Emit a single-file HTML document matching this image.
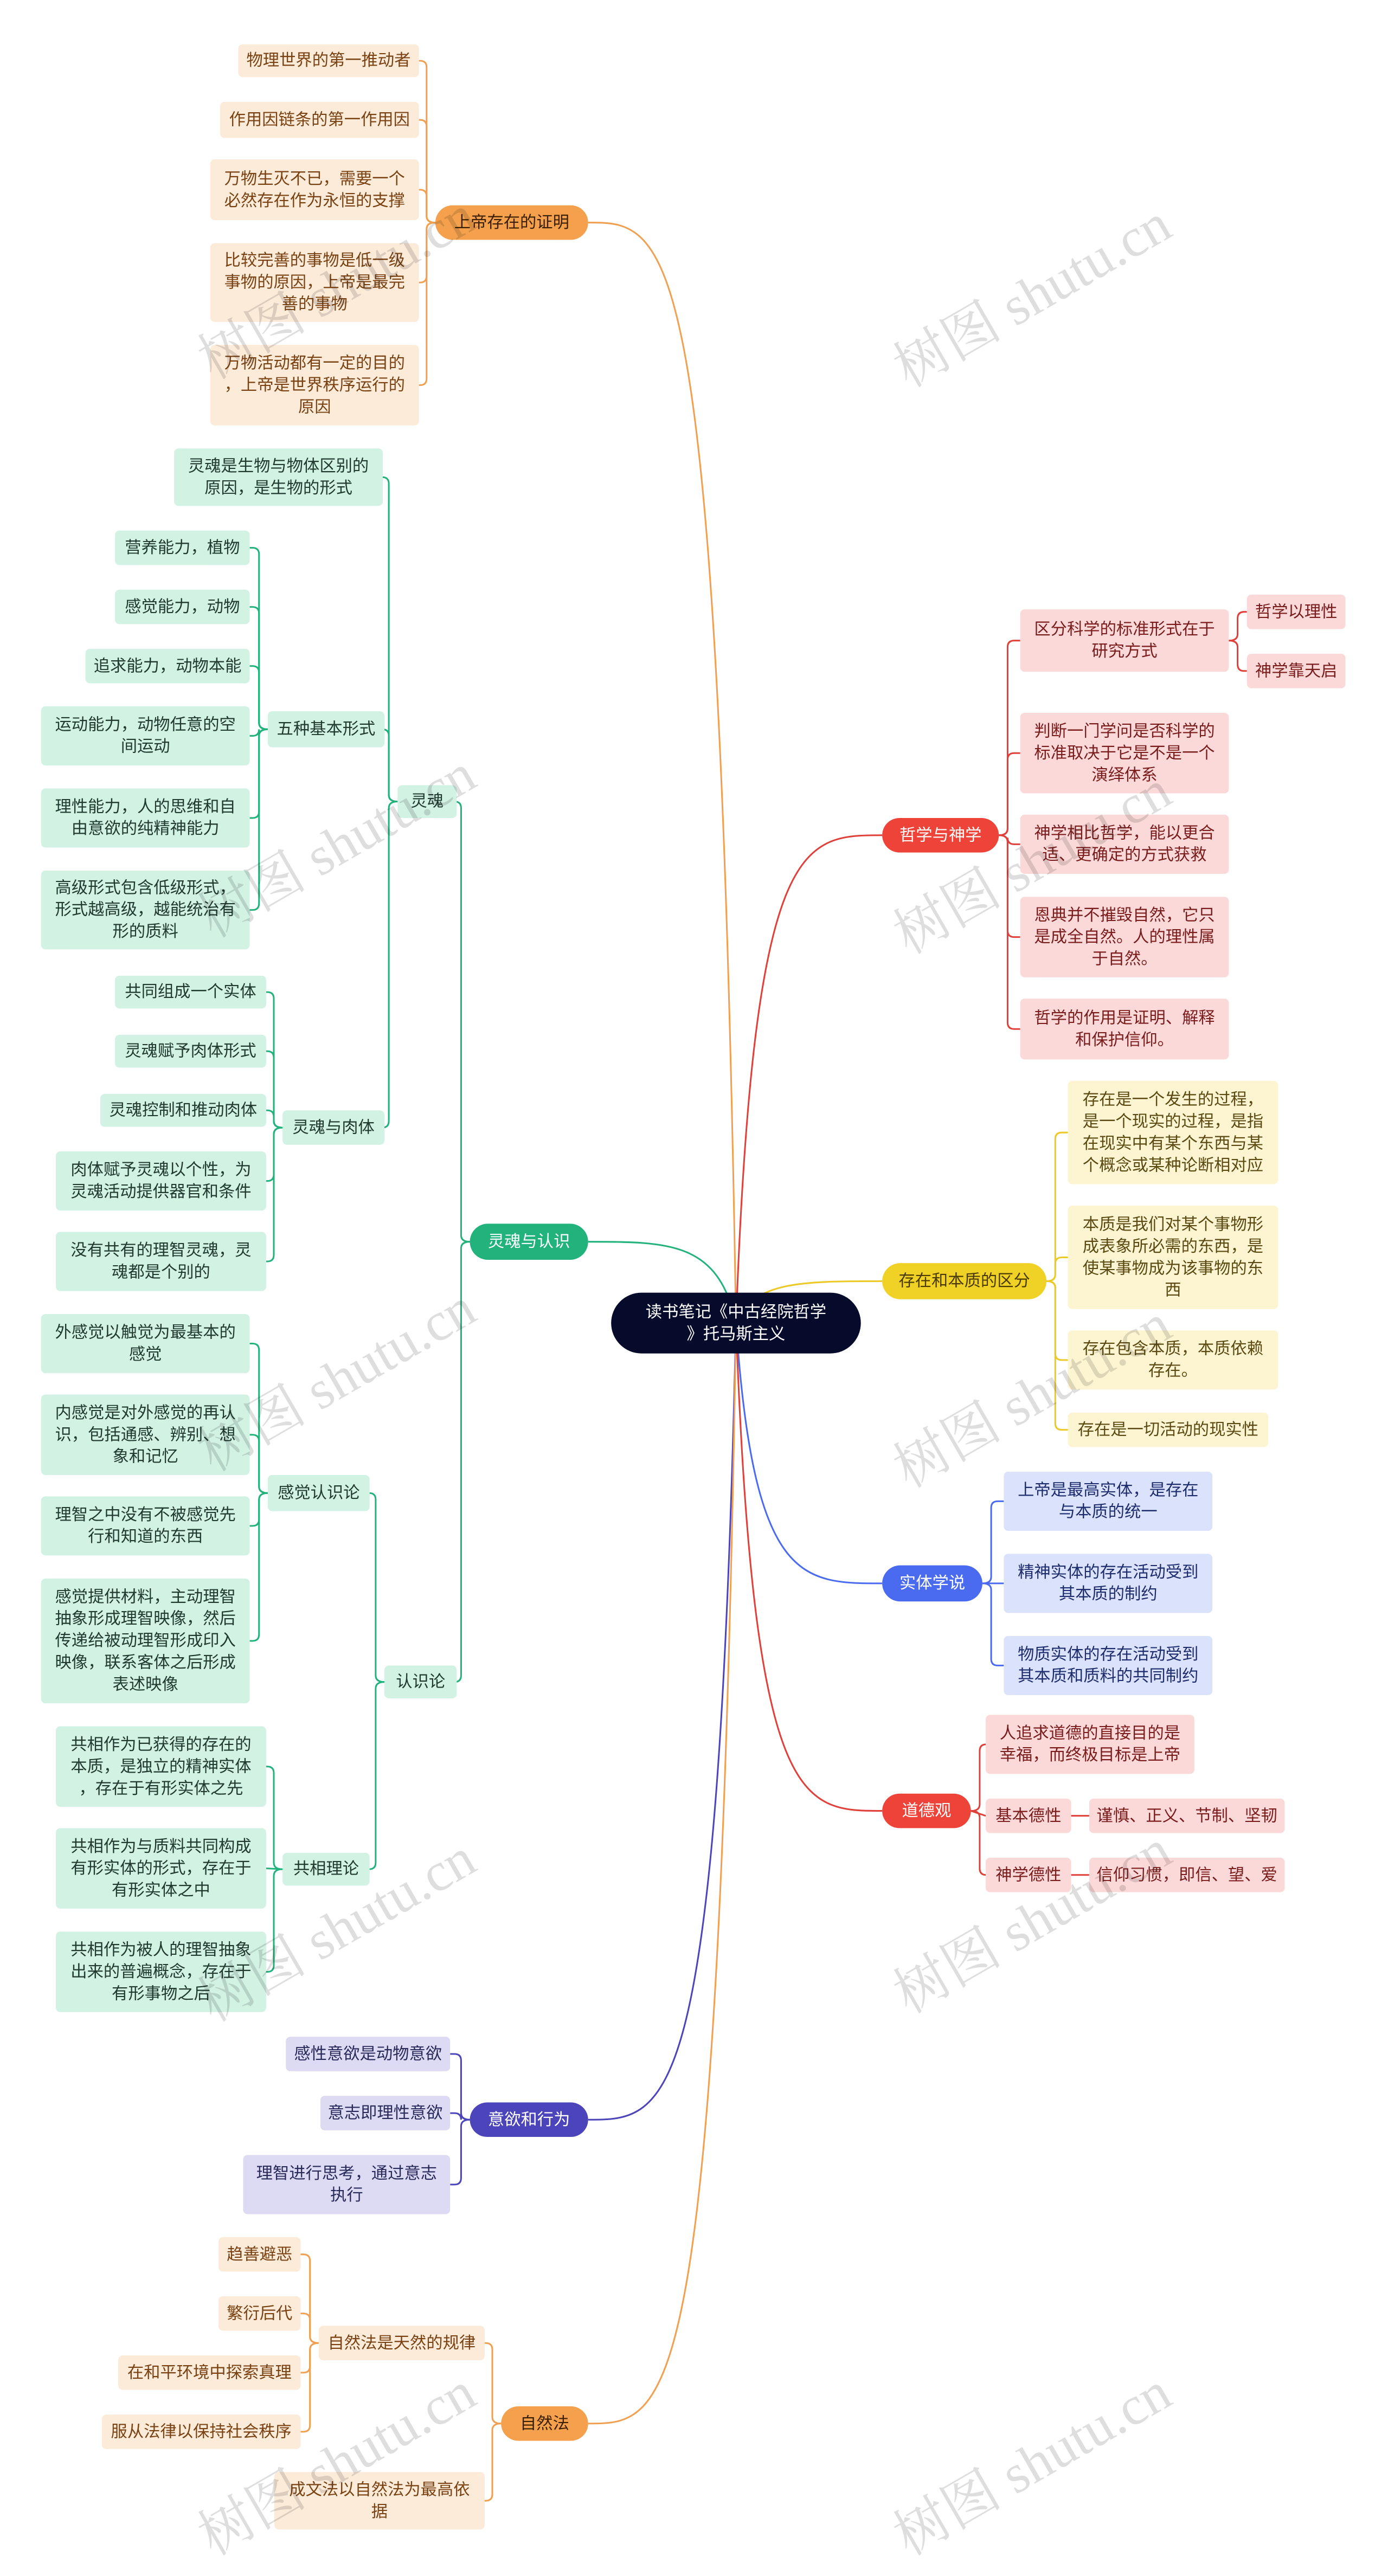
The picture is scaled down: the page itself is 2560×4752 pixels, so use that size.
<!DOCTYPE html>
<html><head><meta charset="utf-8">
<style>
html,body{margin:0;padding:0;background:#fff;}
body{width:2560px;height:4751px;overflow:hidden;position:relative;}
#wrap{position:absolute;left:0;top:0;width:2535px;height:4705px;transform:scale(1.01);transform-origin:0 0;}
svg{position:absolute;left:0;top:0;}
.n{position:absolute;box-sizing:border-box;display:flex;align-items:center;justify-content:center;text-align:center;font-family:"Liberation Sans","Noto Sans CJK SC",sans-serif;font-size:30px;line-height:40px;border-radius:8px;white-space:nowrap;}
.m{border-radius:40px;color:#fff;}
.o{background:#fcebd9;color:#7a4212;}
.g{background:#d2f2e4;color:#203a30;}
.p{background:#fcd9d9;color:#7a1c1c;}
.y{background:#fdf5d2;color:#5a4a12;}
.b{background:#dbe3fc;color:#1e2c6e;}
.l{background:#dddaf3;color:#2a2a5a;}
.wm{position:absolute;font-family:"Liberation Serif","Noto Serif CJK SC",serif;font-size:100px;color:rgba(0,0,0,0.13);transform:rotate(-30deg);white-space:nowrap;transform-origin:center;}
</style></head><body>
<div id="wrap">
<svg id="sv" width="2535" height="4705"></svg>

<div class="n" id="root" style="left:1116px;top:2361px;width:456px;height:111px;background:#060b2b;color:#fff;border-radius:56px;">读书笔记《中古经院哲学<br>》托马斯主义</div>

<!-- 上帝存在的证明 -->
<div class="n m" id="A" style="left:795px;top:375px;width:279px;height:63px;background:#f4a04c;color:#3a2000;">上帝存在的证明</div>
<div class="n o" id="A1" style="left:435px;top:81px;width:330px;height:60px;">物理世界的第一推动者</div>
<div class="n o" id="A2" style="left:402px;top:186px;width:363px;height:66px;">作用因链条的第一作用因</div>
<div class="n o" id="A3" style="left:384px;top:291px;width:381px;height:111px;">万物生灭不已，需要一个<br>必然存在作为永恒的支撑</div>
<div class="n o" id="A4" style="left:384px;top:444px;width:381px;height:144px;">比较完善的事物是低一级<br>事物的原因，上帝是最完<br>善的事物</div>
<div class="n o" id="A5" style="left:384px;top:630px;width:381px;height:147px;">万物活动都有一定的目的<br>，上帝是世界秩序运行的<br>原因</div>

<!-- 灵魂与认识 -->
<div class="n m" id="B" style="left:858px;top:2235px;width:216px;height:66px;background:#22b27c;">灵魂与认识</div>
<div class="n g" id="B1" style="left:726px;top:1434px;width:108px;height:60px;">灵魂</div>
<div class="n g" id="B11" style="left:318px;top:819px;width:381px;height:105px;">灵魂是生物与物体区别的<br>原因，是生物的形式</div>
<div class="n g" id="B12" style="left:489px;top:1299px;width:213px;height:66px;">五种基本形式</div>
<div class="n g" id="B121" style="left:210px;top:969px;width:246px;height:63px;">营养能力，植物</div>
<div class="n g" id="B122" style="left:210px;top:1077px;width:246px;height:63px;">感觉能力，动物</div>
<div class="n g" id="B123" style="left:156px;top:1185px;width:300px;height:63px;">追求能力，动物本能</div>
<div class="n g" id="B124" style="left:75px;top:1290px;width:381px;height:108px;">运动能力，动物任意的空<br>间运动</div>
<div class="n g" id="B125" style="left:75px;top:1440px;width:381px;height:108px;">理性能力，人的思维和自<br>由意欲的纯精神能力</div>
<div class="n g" id="B126" style="left:75px;top:1590px;width:381px;height:144px;">高级形式包含低级形式，<br>形式越高级，越能统治有<br>形的质料</div>
<div class="n g" id="B13" style="left:516px;top:2028px;width:186px;height:63px;">灵魂与肉体</div>
<div class="n g" id="B131" style="left:210px;top:1782px;width:276px;height:60px;">共同组成一个实体</div>
<div class="n g" id="B132" style="left:210px;top:1890px;width:276px;height:60px;">灵魂赋予肉体形式</div>
<div class="n g" id="B133" style="left:183px;top:1998px;width:303px;height:60px;">灵魂控制和推动肉体</div>
<div class="n g" id="B134" style="left:102px;top:2103px;width:384px;height:108px;">肉体赋予灵魂以个性，为<br>灵魂活动提供器官和条件</div>
<div class="n g" id="B135" style="left:102px;top:2250px;width:384px;height:108px;">没有共有的理智灵魂，灵<br>魂都是个别的</div>
<div class="n g" id="B2" style="left:702px;top:3042px;width:132px;height:60px;">认识论</div>
<div class="n g" id="B21" style="left:489px;top:2694px;width:186px;height:66px;">感觉认识论</div>
<div class="n g" id="B211" style="left:75px;top:2400px;width:381px;height:108px;">外感觉以触觉为最基本的<br>感觉</div>
<div class="n g" id="B212" style="left:75px;top:2547px;width:381px;height:147px;">内感觉是对外感觉的再认<br>识，包括通感、辨别、想<br>象和记忆</div>
<div class="n g" id="B213" style="left:75px;top:2733px;width:381px;height:108px;">理智之中没有不被感觉先<br>行和知道的东西</div>
<div class="n g" id="B214" style="left:75px;top:2883px;width:381px;height:228px;">感觉提供材料，主动理智<br>抽象形成理智映像，然后<br>传递给被动理智形成印入<br>映像，联系客体之后形成<br>表述映像</div>
<div class="n g" id="B22" style="left:516px;top:3384px;width:159px;height:60px;">共相理论</div>
<div class="n g" id="B221" style="left:102px;top:3153px;width:384px;height:147px;">共相作为已获得的存在的<br>本质，是独立的精神实体<br>，存在于有形实体之先</div>
<div class="n g" id="B222" style="left:102px;top:3339px;width:384px;height:147px;">共相作为与质料共同构成<br>有形实体的形式，存在于<br>有形实体之中</div>
<div class="n g" id="B223" style="left:102px;top:3528px;width:384px;height:147px;">共相作为被人的理智抽象<br>出来的普遍概念，存在于<br>有形事物之后</div>

<!-- 意欲和行为 -->
<div class="n m" id="C" style="left:858px;top:3840px;width:216px;height:63px;background:#4b44bb;">意欲和行为</div>
<div class="n l" id="C1" style="left:522px;top:3720px;width:300px;height:63px;">感性意欲是动物意欲</div>
<div class="n l" id="C2" style="left:585px;top:3828px;width:237px;height:63px;">意志即理性意欲</div>
<div class="n l" id="C3" style="left:444px;top:3936px;width:378px;height:108px;">理智进行思考，通过意志<br>执行</div>

<!-- 自然法 -->
<div class="n m" id="D" style="left:915px;top:4395px;width:159px;height:63px;background:#f4a04c;color:#3a2000;">自然法</div>
<div class="n o" id="D1" style="left:582px;top:4248px;width:303px;height:63px;">自然法是天然的规律</div>
<div class="n o" id="D11" style="left:399px;top:4086px;width:150px;height:63px;">趋善避恶</div>
<div class="n o" id="D12" style="left:399px;top:4194px;width:150px;height:63px;">繁衍后代</div>
<div class="n o" id="D13" style="left:216px;top:4302px;width:333px;height:63px;">在和平环境中探索真理</div>
<div class="n o" id="D14" style="left:186px;top:4410px;width:363px;height:63px;">服从法律以保持社会秩序</div>
<div class="n o" id="D2" style="left:501px;top:4515px;width:384px;height:105px;">成文法以自然法为最高依<br>据</div>

<!-- 哲学与神学 -->
<div class="n m" id="E" style="left:1611px;top:1494px;width:213px;height:63px;background:#ee4339;">哲学与神学</div>
<div class="n p" id="E1" style="left:1863px;top:1113px;width:381px;height:114px;">区分科学的标准形式在于<br>研究方式</div>
<div class="n p" id="E11" style="left:2277px;top:1086px;width:180px;height:63px;">哲学以理性</div>
<div class="n p" id="E12" style="left:2277px;top:1194px;width:180px;height:63px;">神学靠天启</div>
<div class="n p" id="E2" style="left:1863px;top:1302px;width:381px;height:147px;">判断一门学问是否科学的<br>标准取决于它是不是一个<br>演绎体系</div>
<div class="n p" id="E3" style="left:1863px;top:1488px;width:381px;height:108px;">神学相比哲学，能以更合<br>适、更确定的方式获救</div>
<div class="n p" id="E4" style="left:1863px;top:1638px;width:381px;height:147px;">恩典并不摧毁自然，它只<br>是成全自然。人的理性属<br>于自然。</div>
<div class="n p" id="E5" style="left:1863px;top:1824px;width:381px;height:111px;">哲学的作用是证明、解释<br>和保护信仰。</div>

<!-- 存在和本质的区分 -->
<div class="n m" id="F" style="left:1611px;top:2307px;width:300px;height:66px;background:#f0d126;color:#4a3a00;">存在和本质的区分</div>
<div class="n y" id="F1" style="left:1950px;top:1974px;width:384px;height:189px;">存在是一个发生的过程，<br>是一个现实的过程，是指<br>在现实中有某个东西与某<br>个概念或某种论断相对应</div>
<div class="n y" id="F2" style="left:1950px;top:2202px;width:384px;height:189px;">本质是我们对某个事物形<br>成表象所必需的东西，是<br>使某事物成为该事物的东<br>西</div>
<div class="n y" id="F3" style="left:1950px;top:2430px;width:384px;height:108px;">存在包含本质，本质依赖<br>存在。</div>
<div class="n y" id="F4" style="left:1950px;top:2580px;width:366px;height:63px;">存在是一切活动的现实性</div>

<!-- 实体学说 -->
<div class="n m" id="G" style="left:1611px;top:2859px;width:183px;height:66px;background:#4a6bf0;">实体学说</div>
<div class="n b" id="G1" style="left:1833px;top:2688px;width:381px;height:108px;">上帝是最高实体，是存在<br>与本质的统一</div>
<div class="n b" id="G2" style="left:1833px;top:2838px;width:381px;height:108px;">精神实体的存在活动受到<br>其本质的制约</div>
<div class="n b" id="G3" style="left:1833px;top:2988px;width:381px;height:108px;">物质实体的存在活动受到<br>其本质和质料的共同制约</div>

<!-- 道德观 -->
<div class="n m" id="H" style="left:1611px;top:3276px;width:162px;height:63px;background:#ee4339;">道德观</div>
<div class="n p" id="H1" style="left:1800px;top:3132px;width:381px;height:108px;">人追求道德的直接目的是<br>幸福，而终极目标是上帝</div>
<div class="n p" id="H2" style="left:1800px;top:3285px;width:156px;height:63px;">基本德性</div>
<div class="n p" id="H21" style="left:1989px;top:3285px;width:357px;height:63px;">谨慎、正义、节制、坚韧</div>
<div class="n p" id="H3" style="left:1800px;top:3393px;width:156px;height:63px;">神学德性</div>
<div class="n p" id="H31" style="left:1989px;top:3393px;width:357px;height:63px;">信仰习惯，即信、望、爱</div>

<div class="wm" style="left:330px;top:445px;">树图 shutu.cn</div>
<div class="wm" style="left:1600px;top:460px;">树图 shutu.cn</div>
<div class="wm" style="left:330px;top:1465px;">树图 shutu.cn</div>
<div class="wm" style="left:1600px;top:1495px;">树图 shutu.cn</div>
<div class="wm" style="left:330px;top:2440px;">树图 shutu.cn</div>
<div class="wm" style="left:1600px;top:2470px;">树图 shutu.cn</div>
<div class="wm" style="left:330px;top:3445px;">树图 shutu.cn</div>
<div class="wm" style="left:1600px;top:3430px;">树图 shutu.cn</div>
<div class="wm" style="left:330px;top:4420px;">树图 shutu.cn</div>
<div class="wm" style="left:1600px;top:4420px;">树图 shutu.cn</div>
</div>
<script>
(function(){
var sv=document.getElementById('sv'),P='';
function r(id){var e=document.getElementById(id);return {l:e.offsetLeft,t:e.offsetTop,r:e.offsetLeft+e.offsetWidth,b:e.offsetTop+e.offsetHeight,m:e.offsetTop+e.offsetHeight/2};}
function add(d,c){P+='<path d="'+d+'" fill="none" stroke="'+c+'" stroke-width="3"/>';}
var ox=1344,oy=2416;
function main(id,c,left){var t=r(id);var tx=left?t.r:t.l,ty=t.m;var dx=tx-ox;
add('M'+ox+','+oy+' C'+(ox+dx*0.12)+','+ty+' '+(ox+dx*0.45)+','+ty+' '+tx+','+ty,c);}
function br(pid,kids,c,left){var p=r(pid);var px=left?p.l:p.r,py=p.m;var s=left?-1:1;var bx=px+s*16;
kids.forEach(function(k){var q=r(k);var cx=left?q.r:q.l,cy=q.m;var dy=cy-py;
if(Math.abs(dy)<12){add('M'+px+','+py+' L'+cx+','+cy,c);return;}
var sg=dy>0?1:-1;var rr=12;
add('M'+px+','+py+' Q'+bx+','+py+' '+bx+','+(py+sg*rr)+' L'+bx+','+(cy-sg*rr)+' Q'+bx+','+cy+' '+(bx+s*rr)+','+cy+' L'+cx+','+cy,c);});}
var O='#f0a050',G='#22b27c',R='#e0403a',Y='#ecc925',B='#4a6bf0',L='#4b44bb';
main('A',O,1);main('B',G,1);main('C',L,1);main('D',O,1);
main('E',R,0);main('F',Y,0);main('G',B,0);main('H',R,0);
br('A',['A1','A2','A3','A4','A5'],O,1);
br('B',['B1','B2'],G,1);
br('B1',['B11','B12','B13'],G,1);
br('B12',['B121','B122','B123','B124','B125','B126'],G,1);
br('B13',['B131','B132','B133','B134','B135'],G,1);
br('B2',['B21','B22'],G,1);
br('B21',['B211','B212','B213','B214'],G,1);
br('B22',['B221','B222','B223'],G,1);
br('C',['C1','C2','C3'],L,1);
br('D',['D1','D2'],O,1);
br('D1',['D11','D12','D13','D14'],O,1);
br('E',['E1','E2','E3','E4','E5'],R,0);
br('E1',['E11','E12'],R,0);
br('F',['F1','F2','F3','F4'],Y,0);
br('G',['G1','G2','G3'],B,0);
br('H',['H1','H2','H3'],R,0);
br('H2',['H21'],R,0);br('H3',['H31'],R,0);
sv.innerHTML=P;
})();
</script>
</body></html>
